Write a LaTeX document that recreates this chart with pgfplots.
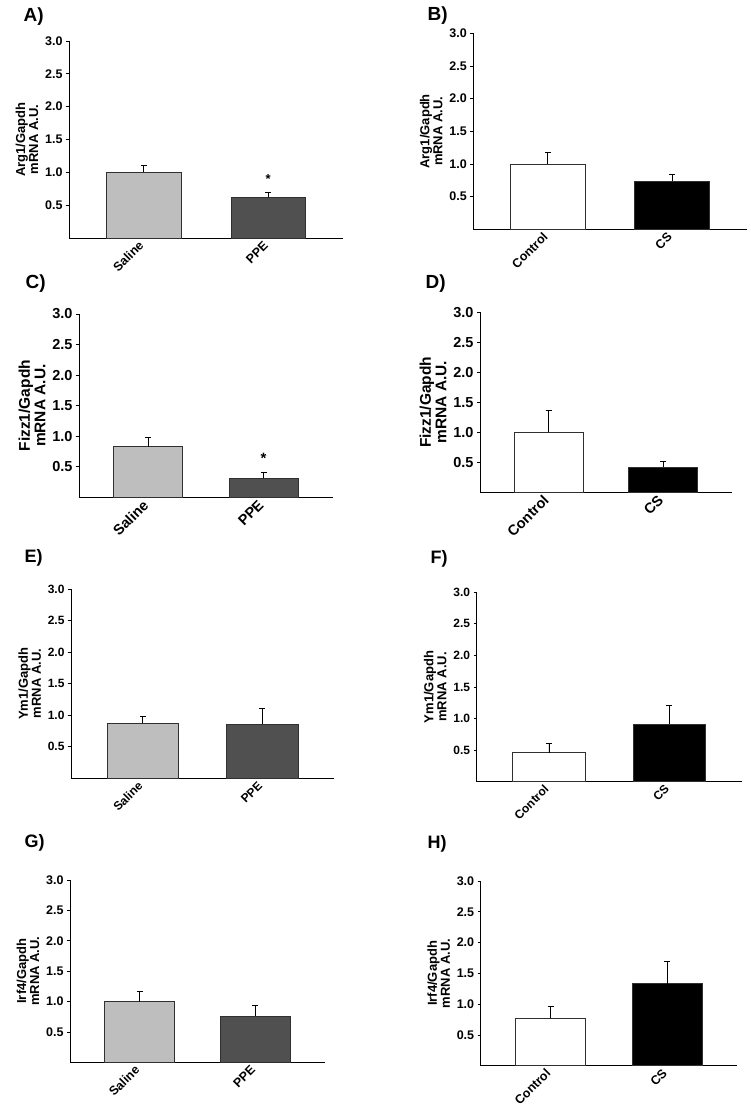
\documentclass[border=0pt]{standalone}
\usepackage{pgfplots}
\pgfplotsset{compat=1.18}
\usepackage{fontspec}
\setmainfont{Liberation Sans}
\definecolor{salc}{HTML}{BEBEBE}
\definecolor{ppec}{HTML}{505050}
\definecolor{edgec}{HTML}{303030}
\newcommand\fs[1]{\fontsize{#1}{#1}\selectfont\bfseries}
\pgfplotsset{
  panel/.style n args={2}{
    scale only axis,
    axis lines=left,
    axis line style={-, line width=0.9pt, black},
    xmin=0.4, xmax=2.6, ymin=0, ymax=3,
    ytick={0.5,1.0,1.5,2.0,2.5,3.0},
    xtick={1,2},
    tick align=outside,
    major tick length=3pt,
    major x tick style={draw=none},
    major y tick style={line width=0.8pt, black},
    /pgf/number format/assume math mode=true,
    yticklabel style={/pgf/number format/.cd, fixed, fixed zerofill, precision=1, /tikz/.cd, font=\fs{#1}},
    xticklabel style={rotate=45, anchor=east, font=\fs{#1}},
    ylabel style={align=center, font=\fs{#2}},
    clip=false,
  },
  bar/.style={ybar, bar shift=0pt, bar width=0.6, draw=edgec, line width=0.8pt, fill=#1,
    error bars/.cd, y dir=plus, y explicit,
    error bar style={line width=0.9pt, black},
    error mark options={rotate=90, line width=0.9pt, black, mark size=3pt}},
  star/.style={draw=none, mark=none, nodes near coords={*}, every node near coord/.style={anchor=center, font=\fs{#1}}},
}
\begin{document}
\begin{tikzpicture}
\useasboundingbox (0,0) rectangle (750pt,1111pt);
% Panel A
\node[anchor=west, font=\fs{19}] at (20pt,1094pt) {A)};
\begin{axis}[panel={12.5}{13}, at={(69pt,873pt)}, anchor=south west, width=274pt, height=197pt,
  xticklabels={Saline,PPE}, ylabel={Arg1/Gapdh\\mRNA A.U.}]
\addplot[bar=salc] coordinates {(1,1.00) +- (0,0.10)};
\addplot[bar=ppec] coordinates {(2,0.62) +- (0,0.08)};
\addplot[star=13] coordinates {(2,0.90)};
\end{axis}
% Panel B
\node[anchor=west, font=\fs{19}] at (424pt,1095pt) {B)};
\begin{axis}[panel={12.5}{13}, at={(473.3pt,881.7pt)}, anchor=south west, width=273.4pt, height=196pt,
  xticklabels={Control,CS}, ylabel={Arg1/Gapdh\\mRNA A.U.}]
\addplot[bar=white] coordinates {(1,1.00) +- (0,0.17)};
\addplot[bar=black] coordinates {(2,0.74) +- (0,0.10)};
\end{axis}
% Panel C
\node[anchor=west, font=\fs{19}] at (22pt,827pt) {C)};
\begin{axis}[panel={14.5}{15.5}, at={(79pt,613.7pt)}, anchor=south west, width=253.7pt, height=183.3pt,
  xticklabels={Saline,PPE}, ylabel={Fizz1/Gapdh\\mRNA A.U.}]
\addplot[bar=salc] coordinates {(1,0.83) +- (0,0.15)};
\addplot[bar=ppec] coordinates {(2,0.31) +- (0,0.10)};
\addplot[star=15] coordinates {(2,0.64)};
\end{axis}
% Panel D
\node[anchor=west, font=\fs{19}] at (422pt,827pt) {D)};
\begin{axis}[panel={14.5}{15.5}, at={(480pt,618.7pt)}, anchor=south west, width=251.7pt, height=180pt,
  xticklabels={Control,CS}, ylabel={Fizz1/Gapdh\\mRNA A.U.}]
\addplot[bar=white] coordinates {(1,1.00) +- (0,0.37)};
\addplot[bar=black] coordinates {(2,0.42) +- (0,0.10)};
\end{axis}
% Panel E
\node[anchor=west, font=\fs{18}] at (21pt,553.5pt) {E)};
\begin{axis}[panel={12}{13}, at={(71pt,332.7pt)}, anchor=south west, width=263.3pt, height=189.3pt,
  xticklabels={Saline,PPE}, ylabel={Ym1/Gapdh\\mRNA A.U.}]
\addplot[bar=salc] coordinates {(1,0.87) +- (0,0.11)};
\addplot[bar=ppec] coordinates {(2,0.86) +- (0,0.24)};
\end{axis}
% Panel F
\node[anchor=west, font=\fs{18}] at (427pt,552pt) {F)};
\begin{axis}[panel={12}{13}, at={(476.7pt,329.3pt)}, anchor=south west, width=265pt, height=189.4pt,
  xticklabels={Control,CS}, ylabel={Ym1/Gapdh\\mRNA A.U.}]
\addplot[bar=white] coordinates {(1,0.46) +- (0,0.14)};
\addplot[bar=black] coordinates {(2,0.91) +- (0,0.29)};
\end{axis}
% Panel G
\node[anchor=west, font=\fs{18}] at (21pt,268pt) {G)};
\begin{axis}[panel={12.5}{13}, at={(70pt,48.7pt)}, anchor=south west, width=255pt, height=182.3pt,
  xticklabels={Saline,PPE}, ylabel={Irf4/Gapdh\\mRNA A.U.}]
\addplot[bar=salc] coordinates {(1,1.00) +- (0,0.16)};
\addplot[bar=ppec] coordinates {(2,0.76) +- (0,0.18)};
\end{axis}
% Panel H
\node[anchor=west, font=\fs{18}] at (424pt,267pt) {H)};
\begin{axis}[panel={12.5}{13}, at={(480.7pt,45.3pt)}, anchor=south west, width=256.6pt, height=184.7pt,
  xticklabels={Control,CS}, ylabel={Irf4/Gapdh\\mRNA A.U.}]
\addplot[bar=white] coordinates {(1,0.77) +- (0,0.19)};
\addplot[bar=black] coordinates {(2,1.33) +- (0,0.36)};
\end{axis}
\end{tikzpicture}
\end{document}
